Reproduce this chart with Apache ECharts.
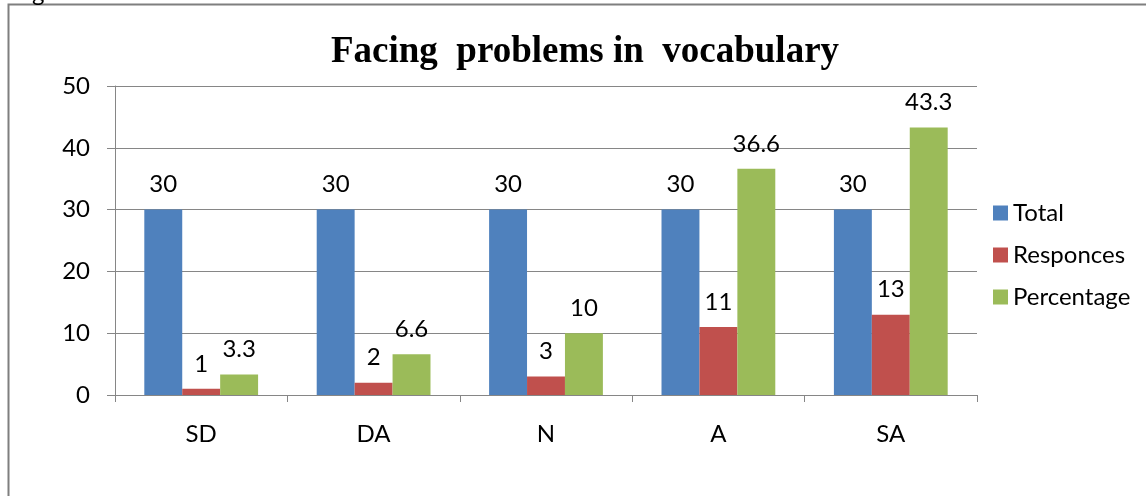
<!DOCTYPE html>
<html>
<head>
<meta charset="utf-8">
<script src="https://cdn.jsdelivr.net/npm/echarts@6/dist/echarts.min.js"></script>
<style>
    html, body { margin: 0; padding: 0; background: #fff; }
    #chart { width: 1146px; height: 496px; }
</style>
</head>
<body>
<div id="chart"></div>
<script>
// categories and values
var categories = ['SD', 'DA', 'N', 'A', 'SA'];
var totalData = [30, 30, 30, 30, 30];
var responcesData = [1, 2, 3, 11, 13];
var percentageData = [3.3, 6.6, 10, 36.6, 43.3];
var seriesNames = ['Total', 'Responces', 'Percentage'];
var colors = ['#4F81BD', '#C0504D', '#9BBB59'];

var font = 'Lato, "Open Sans", sans-serif';

var chart = echarts.init(document.getElementById('chart'));

function makeSeries(name, data, color) {
    return {
        name: name,
        type: 'bar',
        data: data,
        barGap: 0,
        barCategoryGap: '34%',
        itemStyle: { color: color },
        label: {
            show: true,
            position: 'top',
            distance: 13,
            color: '#000',
            fontSize: 24,
            fontFamily: font
        }
    };
}

chart.setOption({
    animation: false,
    title: {
        text: 'Facing  problems in  vocabulary',
        left: 580,
        textAlign: 'center',
        top: 29,
        textStyle: {
            fontFamily: '"Liberation Serif", "DejaVu Serif", serif',
            fontWeight: 'bold',
            fontSize: 37,
            color: '#000'
        }
    },
    legend: {
        data: seriesNames,
        orient: 'vertical',
        left: 988,
        top: 196,
        itemWidth: 15,
        itemHeight: 15,
        itemGap: 18,
        icon: 'rect',
        textStyle: { fontSize: 24, fontFamily: font, color: '#000' }
    },
    grid: { left: 115, right: 169, top: 86, bottom: 101 },
    xAxis: {
        type: 'category',
        data: categories,
        axisLine: { lineStyle: { color: '#868686' } },
        axisTick: { show: true, length: 7, lineStyle: { color: '#868686' } },
        axisLabel: { color: '#000', fontSize: 24, fontFamily: font, margin: 27 }
    },
    yAxis: {
        type: 'value',
        min: 0,
        max: 50,
        interval: 10,
        axisLine: { show: true, lineStyle: { color: '#868686' } },
        axisTick: { show: true, length: 8, lineStyle: { color: '#868686' } },
        splitLine: { lineStyle: { color: '#868686' } },
        axisLabel: { color: '#000', fontSize: 24, fontFamily: font, margin: 25 }
    },
    series: [
        makeSeries(seriesNames[0], totalData, colors[0]),
        makeSeries(seriesNames[1], responcesData, colors[1]),
        makeSeries(seriesNames[2], percentageData, colors[2])
    ],
    graphic: [
        {
            type: 'rect',
            shape: { x: 8.5, y: 4.5, width: 1200, height: 600 },
            style: { fill: 'none', stroke: '#7f7f7f', lineWidth: 2 },
            silent: true
        },
        {
            type: 'text',
            left: 32,
            top: -19,
            style: { text: 'g', fontSize: 24, fontFamily: font, fill: '#000' }
        }
    ]
});
</script>
</body>
</html>
